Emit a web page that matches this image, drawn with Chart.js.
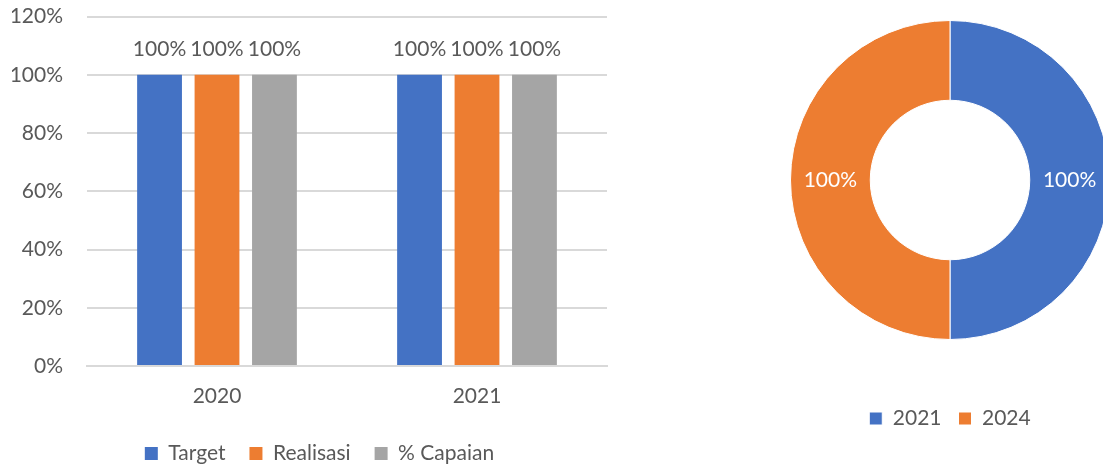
<!DOCTYPE html>
<html lang="id">
<head>
<meta charset="UTF-8">
<title>Target dan Realisasi</title>
<script src="https://cdn.jsdelivr.net/npm/chart.js"></script>
<style>
  html, body { margin: 0; padding: 0; background: #fff; overflow: hidden; }
  body { width: 1103px; height: 466px; position: relative; }
  #barChart { position: absolute; left: 0; top: -20px; }
  #donutChart { position: absolute; left: 780px; top: -31px; }
</style>
</head>
<body>
<canvas id="barChart" width="620" height="494"></canvas>
<canvas id="donutChart" width="340" height="470"></canvas>

<script>
// bar chart data
const years = ['2020', '2021'];
const targetValues = [100, 100];
const realisasiValues = [100, 100];
const capaianValues = [100, 100];
const yTicks = [0, 20, 40, 60, 80, 100, 120];

// doughnut data
const donutLabels = ['2021', '2024'];
const donutValues = [100, 100];

const BLUE = '#4472C4', ORANGE = '#ED7D31', GREY = '#A5A5A5';
const TEXT = '#595959';
const FONT = 'Lato, "Open Sans", sans-serif';
const SIZE = 21;

Chart.defaults.font.family = FONT;
Chart.defaults.font.size = SIZE;
Chart.defaults.color = TEXT;

// draws "NN%" above each bar / in the middle of each arc
const valueLabels = {
  id: 'valueLabels',
  afterDatasetsDraw(chart, args, opts) {
    const ctx = chart.ctx;
    ctx.save();
    ctx.font = SIZE + 'px ' + FONT;
    ctx.fillStyle = opts.color || TEXT;
    ctx.textAlign = 'center';
    ctx.textBaseline = 'middle';
    chart.data.datasets.forEach((ds, i) => {
      chart.getDatasetMeta(i).data.forEach((el, j) => {
        const text = ds.data[j] + '%';
        if (chart.config.type === 'bar') {
          ctx.fillText(text, el.x, el.y - 26);
        } else {
          const p = el.tooltipPosition();
          ctx.fillText(text, p.x, p.y);
        }
      });
    });
    ctx.restore();
  }
};

// nudge the legend sideways so it sits under the plot rather than the canvas
const legendShift = {
  id: 'legendShift',
  afterLayout(chart, args, opts) {
    const lg = chart.legend;
    if (!lg) return;
    lg.left += opts.dx;
    lg.right += opts.dx;
  }
};

new Chart(document.getElementById('barChart'), {
  type: 'bar',
  data: {
    labels: years,
    datasets: [
      { label: 'Target', data: targetValues, backgroundColor: BLUE },
      { label: 'Realisasi', data: realisasiValues, backgroundColor: ORANGE },
      { label: '% Capaian', data: capaianValues, backgroundColor: GREY }
    ]
  },
  options: {
    responsive: false,
    animation: false,
    categoryPercentage: 0.663,
    barPercentage: 0.78,
    layout: { padding: { left: 12, right: 13, top: 0, bottom: 0 } },
    scales: {
      x: {
        grid: { display: false },
        border: { display: true, color: '#D9D9D9', width: 2 },
        ticks: { padding: 10, color: TEXT },
        afterFit(scale) { scale.height = 53; }
      },
      y: {
        min: 0,
        max: 120,
        afterBuildTicks(scale) { scale.ticks = yTicks.map(v => ({ value: v })); },
        grid: { color: '#D9D9D9', lineWidth: 2, drawTicks: false },
        border: { display: false },
        ticks: { padding: 24, color: TEXT, callback: v => v + '%' },
        afterFit(scale) { scale.width = 75; }
      }
    },
    plugins: {
      legend: {
        position: 'bottom',
        labels: { boxWidth: 13, boxHeight: 13, padding: 24, color: TEXT }
      },
      legendShift: { dx: 10 },
      tooltip: { enabled: false },
      valueLabels: { color: TEXT }
    }
  },
  plugins: [valueLabels, legendShift]
});

new Chart(document.getElementById('donutChart'), {
  type: 'doughnut',
  data: {
    labels: donutLabels,
    datasets: [{
      data: donutValues,
      backgroundColor: [BLUE, ORANGE],
      borderColor: '#fff',
      borderWidth: 1
    }]
  },
  options: {
    responsive: false,
    animation: false,
    cutout: '50%',
    layout: { padding: { left: 10, right: 10, top: 0, bottom: 0 } },
    plugins: {
      legend: {
        position: 'bottom',
        labels: { boxWidth: 13, boxHeight: 13, padding: 17, color: TEXT }
      },
      tooltip: { enabled: false },
      valueLabels: { color: '#fff' }
    }
  },
  plugins: [valueLabels]
});
</script>
</body>
</html>
